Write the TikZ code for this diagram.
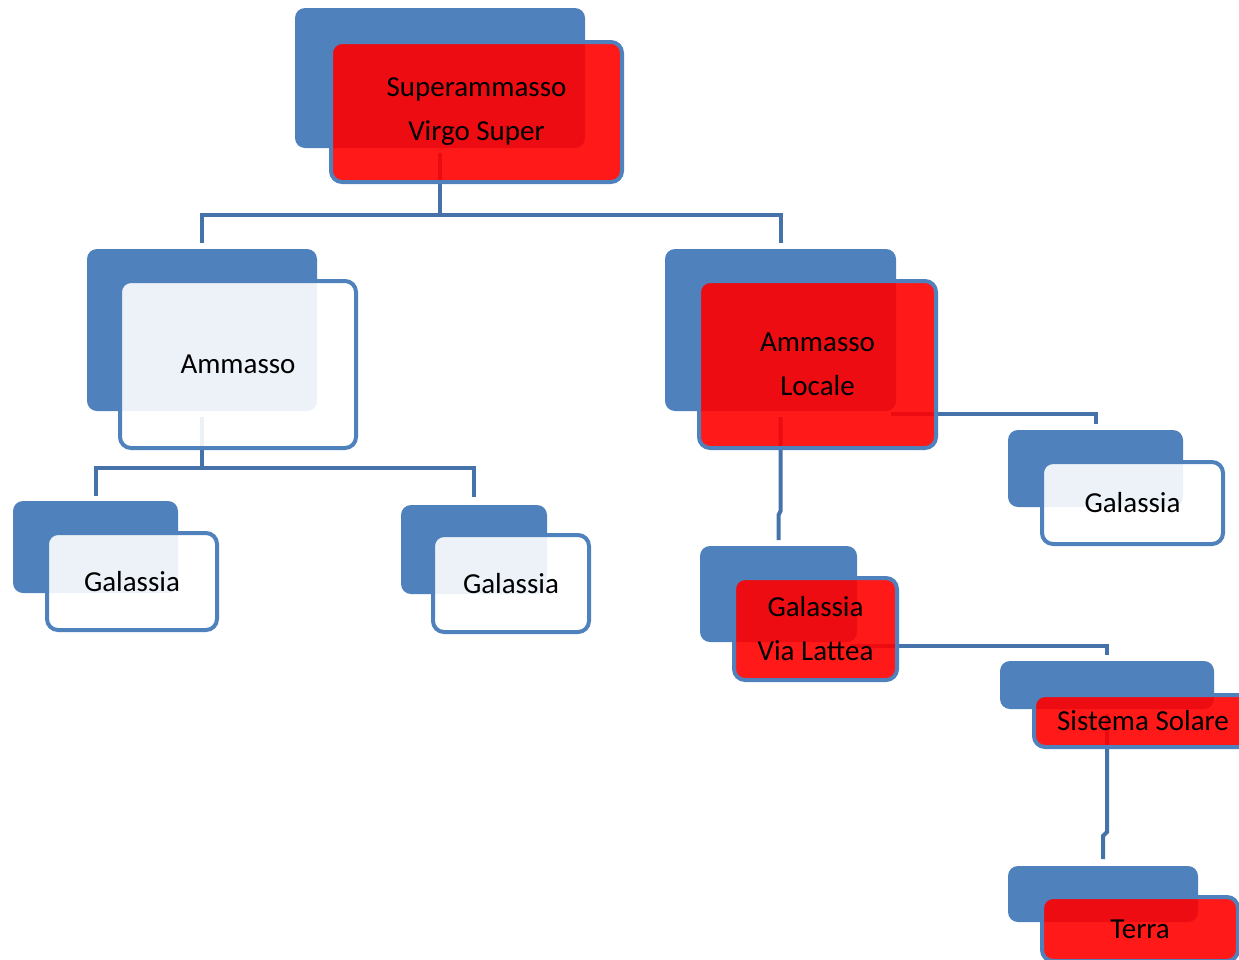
\documentclass[tikz,border=0pt]{standalone}
\usepackage{fontspec}
\setmainfont{Carlito}
\definecolor{blu}{HTML}{4F81BD}
\definecolor{conncol}{HTML}{4672AA}
\begin{document}
\begin{tikzpicture}[x=1pt,y=-1pt,
  back/.style={fill=blu, rounded corners=10pt, inner sep=0pt, outer sep=0pt},
  front/.style={draw=blu, line width=4pt, fill opacity=0.9, text opacity=1,
    rounded corners=11pt, inner sep=0pt, outer sep=0pt, align=center,
    font=\fontsize{29pt}{44pt}\selectfont, text=black},
  redbox/.style={front, fill=red},
  whitebox/.style={front, fill=white},
  conn/.style={draw=conncol, line width=4pt}]
\clip (0,0) rectangle (1239,959);
% back boxes
\node[back, minimum width=290pt, minimum height=140pt] (Ab) at (440,78) {};
\node[back, minimum width=230pt, minimum height=162pt] (Bb) at (202,330) {};
\node[back, minimum width=231pt, minimum height=162pt] (Cb) at (780.5,330) {};
\node[back, minimum width=165pt, minimum height=92pt] (Db) at (95.5,547) {};
\node[back, minimum width=146pt, minimum height=89pt] (Eb) at (474,549.5) {};
\node[back, minimum width=175pt, minimum height=77pt] (Fb) at (1095.5,468.5) {};
\node[back, minimum width=157pt, minimum height=96pt] (Gb) at (778.5,594) {};
\node[back, minimum width=214pt, minimum height=48pt] (Hb) at (1107,685) {};
\node[back, minimum width=190pt, minimum height=56pt] (Ib) at (1103,894) {};
% connectors
\draw[conn] ([yshift=-5pt]Ab.south) -- ++(0,62) -| ([yshift=6pt]Bb.north);
\draw[conn] ([yshift=-5pt]Ab.south) -- ++(0,62) -| ([yshift=6pt]Cb.north);
\draw[conn] ([yshift=-6pt]Bb.south) -- ++(0,51) -| ([yshift=5pt]Db.north);
\draw[conn] ([yshift=-6pt]Bb.south) -- ++(0,51) -| ([yshift=8pt]Eb.north);
\draw[conn] ([yshift=-6pt]Cb.south) -- ++(0,94) -- ++(-2,4) -- ([yshift=6pt]Gb.north);
\draw[conn] ([shift={(-5pt,-3pt)}]Cb.south east) -| ([yshift=6pt]Fb.north);
\draw[conn] ([shift={(-7pt,-4pt)}]Gb.south east) -| ([yshift=6pt]Hb.north);
\draw[conn] ([yshift=-5pt]Hb.south) -- ++(0,118) -- ++(-4,4) -- ([yshift=7pt]Ib.north);
% front boxes
\node[redbox, minimum width=291pt, minimum height=140pt] (A) at (476.5,112) {Superammasso\\Virgo Super};
\node[whitebox, minimum width=236pt, minimum height=167pt] (B) at (238,364.5) {Ammasso};
\node[redbox, minimum width=237pt, minimum height=167pt] (C) at (817.5,364.5) {Ammasso\\Locale};
\node[whitebox, minimum width=170pt, minimum height=97pt] (D) at (132,581.5) {Galassia};
\node[whitebox, minimum width=156pt, minimum height=97pt] (E) at (511,583.5) {Galassia};
\node[whitebox, minimum width=181pt, minimum height=82pt] (F) at (1132.5,503) {Galassia};
\node[redbox, minimum width=163pt, minimum height=102pt] (G) at (815.5,629) {Galassia\\Via Lattea};
\node[redbox, minimum width=218pt, minimum height=52pt] (H) at (1143,721) {Sistema Solare};
\node[redbox, minimum width=196pt, minimum height=64pt] (I) at (1140,929) {Terra};
\end{tikzpicture}
\end{document}
